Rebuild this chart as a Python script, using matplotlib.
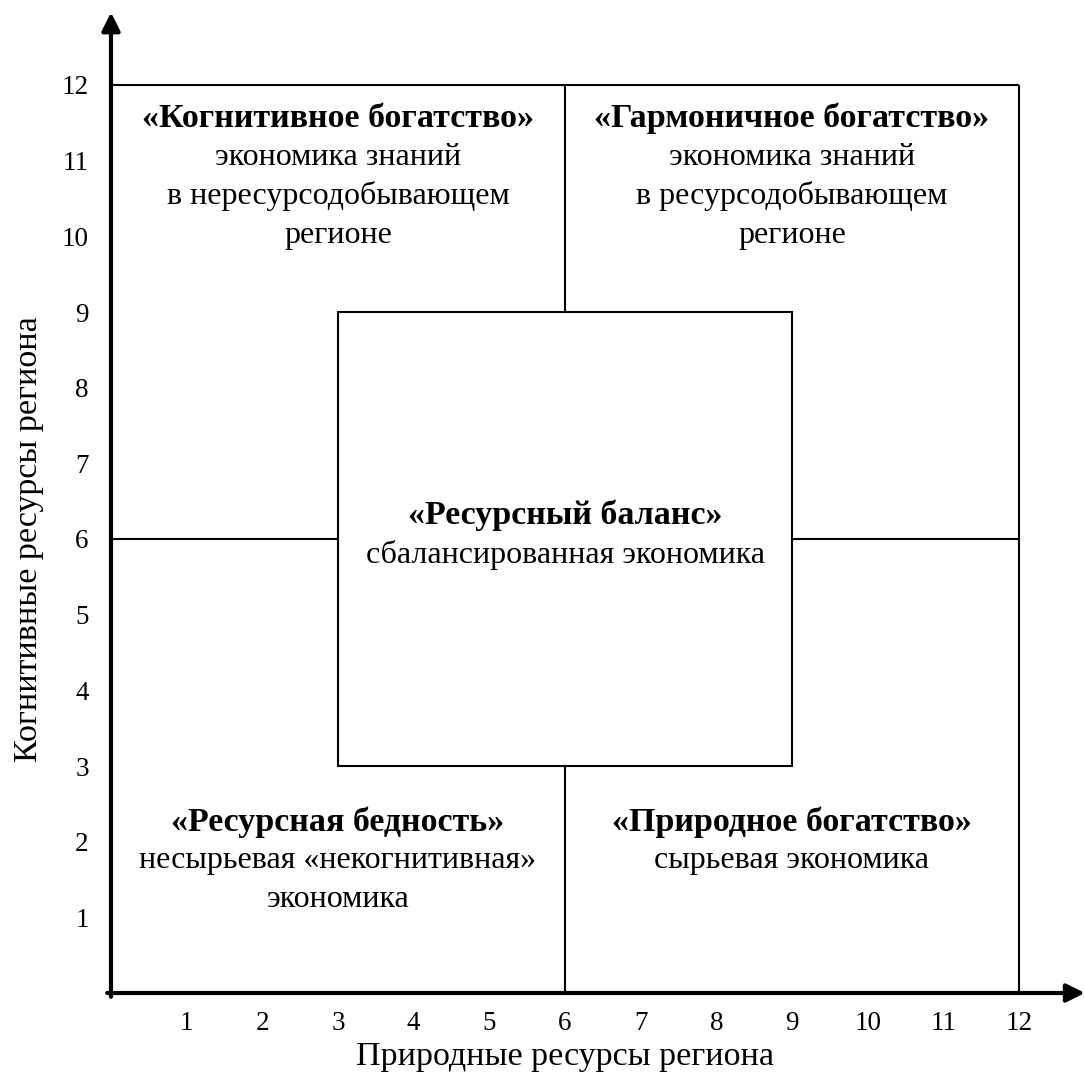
import matplotlib
matplotlib.use("Agg")
import matplotlib.pyplot as plt
from matplotlib.patches import Rectangle

plt.rcParams['font.family'] = ['Liberation Serif', 'DejaVu Serif']

# Data
x_ticks = [1, 2, 3, 4, 5, 6, 7, 8, 9, 10, 11, 12]
y_ticks = [1, 2, 3, 4, 5, 6, 7, 8, 9, 10, 11, 12]
x_label = "Природные ресурсы региона"
y_label = "Когнитивные ресурсы региона"

# quadrant extent and centre box
outer = (0, 12, 0, 12)
split_x = 6
split_y = 6
center_box = (3, 9, 3, 9)

titles = ["«Когнитивное богатство»", "«Гармоничное богатство»",
          "«Ресурсная бедность»", "«Природное богатство»", "«Ресурсный баланс»"]
subtitles = [["экономика знаний", "в нересурсодобывающем", "регионе"],
             ["экономика знаний", "в ресурсодобывающем", "регионе"],
             ["несырьевая «некогнитивная»", "экономика"],
             ["сырьевая экономика"],
             ["сбалансированная экономика"]]
text_x = [3, 9, 3, 9, 6]
text_y = [11.56, 11.56, 2.26, 2.26, 6.31]
line_step = 0.515

fig = plt.figure(figsize=(10.84, 10.80), dpi=100)
ax = fig.add_axes([111/1084, (1080-993)/1080, 908/1084, 908/1080])
ax.set_xlim(outer[0], outer[1])
ax.set_ylim(outer[2], outer[3])
for s in ax.spines.values():
    s.set_visible(False)

lw = 1.5
kw = dict(color='black', lw=lw, clip_on=False, solid_capstyle='butt')
ax.plot([outer[0], outer[1]], [outer[3], outer[3]], **kw)
ax.plot([outer[1], outer[1]], [outer[2], outer[3]], **kw)
ax.plot([split_x, split_x], [center_box[3], outer[3]], **kw)
ax.plot([split_x, split_x], [outer[2], center_box[2]], **kw)
ax.plot([outer[0], center_box[0]], [split_y, split_y], **kw)
ax.plot([center_box[1], outer[1]], [split_y, split_y], **kw)
ax.add_patch(Rectangle((center_box[0], center_box[2]), center_box[1]-center_box[0],
                       center_box[3]-center_box[2], fill=False, ec='black', lw=lw))

# axes arrows
astyle = "-|>,head_length=1.1,head_width=0.55"
ax.annotate("", xy=(12.87, 0), xytext=(-0.05, 0), annotation_clip=False,
            arrowprops=dict(arrowstyle=astyle, color='black', lw=3,
                            shrinkA=0, shrinkB=0))
ax.annotate("", xy=(0, 12.96), xytext=(0, -0.05), annotation_clip=False,
            arrowprops=dict(arrowstyle=astyle, color='black', lw=3,
                            shrinkA=0, shrinkB=0))

ax.set_xticks(x_ticks)
ax.set_xticklabels([str(v) for v in x_ticks], fontsize=19.5)
ax.set_yticks(y_ticks)
ax.set_yticklabels([str(v) for v in y_ticks], fontsize=19.5)
ax.tick_params(axis='x', length=0, pad=13)
ax.tick_params(axis='y', length=0, pad=16)

ax.set_xlabel(x_label, fontsize=24.5, labelpad=4)
ax.set_ylabel(y_label, fontsize=24.5, labelpad=13)

for t, subs, tx, ty in zip(titles, subtitles, text_x, text_y):
    ax.text(tx, ty, t, ha='center', va='center', fontsize=24.5, fontweight='bold')
    for i, s in enumerate(subs):
        ax.text(tx, ty - line_step*(i+1), s, ha='center', va='center', fontsize=23)

fig.savefig("out.png", dpi=100)
